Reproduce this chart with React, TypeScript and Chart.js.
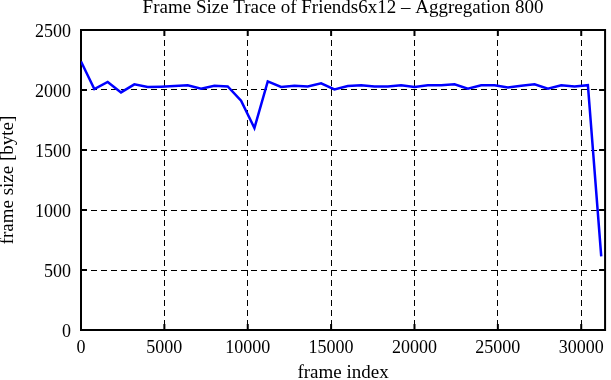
import React, { useEffect, useRef } from "react";
import { Chart, registerables } from "chart.js";

Chart.register(...registerables);

const chartTitle = "Frame Size Trace of Friends6x12 – Aggregation 800";
const xAxisTitle = "frame index";
const yAxisTitle = "frame size [byte]";

const frameIndex = [
  0, 800, 1600, 2400, 3200, 4000, 4800, 5600, 6400, 7200,
  8000, 8800, 9600, 10400, 11200, 12000, 12800, 13600, 14400, 15200,
  16000, 16800, 17600, 18400, 19200, 20000, 20800, 21600, 22400, 23200,
  24000, 24800, 25600, 26400, 27200, 28000, 28800, 29600, 30400, 31200,
];

const frameSize = [
  2238, 2008, 2067, 1980, 2047, 2025, 2028, 2033, 2040, 2010,
  2035, 2030, 1911, 1683, 2072, 2025, 2035, 2030, 2055, 2005,
  2033, 2040, 2030, 2030, 2040, 2025, 2040, 2040, 2048, 2010,
  2040, 2040, 2020, 2035, 2048, 2010, 2040, 2030, 2040, 613,
];

const xTicks = [0, 5000, 10000, 15000, 20000, 25000, 30000];
const yTicks = [0, 500, 1000, 1500, 2000, 2500];
const xMin = 0;
const xMax = 31430;
const yMin = 0;
const yMax = 2500;

const FONT = "'Liberation Serif', 'DejaVu Serif', serif";

const framePlugin = {
  id: "gnuplotFrame",
  beforeDatasetsDraw(chart: any) {
    const { ctx, chartArea } = chart;
    const { left, right, top, bottom } = chartArea;
    const xs = chart.scales.x;
    const ys = chart.scales.y;
    const tl = 6;
    ctx.save();
    ctx.strokeStyle = "#000";
    ctx.lineWidth = 2;
    ctx.setLineDash([]);
    ctx.beginPath();
    xTicks.forEach((v) => {
      const px = xs.getPixelForValue(v);
      ctx.moveTo(px, bottom);
      ctx.lineTo(px, bottom - tl);
      ctx.moveTo(px, top);
      ctx.lineTo(px, top + tl);
    });
    yTicks.forEach((v) => {
      const py = ys.getPixelForValue(v);
      ctx.moveTo(left, py);
      ctx.lineTo(left + tl, py);
      ctx.moveTo(right, py);
      ctx.lineTo(right - tl, py);
    });
    ctx.stroke();
    ctx.lineWidth = 2;
    ctx.strokeRect(left, top, right - left, bottom - top);
    ctx.restore();
  },
};

export default function App() {
  const canvasRef = useRef<HTMLCanvasElement | null>(null);

  useEffect(() => {
    const canvas = canvasRef.current;
    if (!canvas) return;
    const points = frameIndex.map((x, i) => ({ x, y: frameSize[i] }));
    const chart = new Chart(canvas, {
      type: "line",
      data: {
        datasets: [
          {
            data: points,
            borderColor: "#0000ff",
            backgroundColor: "#0000ff",
            borderWidth: 2.5,
            pointRadius: 0,
            tension: 0,
            fill: false,
          },
        ],
      },
      options: {
        animation: false,
        responsive: false,
        devicePixelRatio: 1,
        layout: { padding: { left: 0, right: 3, top: 0, bottom: 0 } },
        plugins: {
          legend: { display: false },
          tooltip: { enabled: false },
          title: {
            display: true,
            text: chartTitle,
            fullSize: false,
            color: "#000",
            font: { family: FONT, size: 19, weight: "normal", lineHeight: 1 },
            padding: { top: -1.5, bottom: 12.5 },
          },
        },
        scales: {
          x: {
            type: "linear",
            min: xMin,
            max: xMax,
            afterBuildTicks: (scale: any) => {
              scale.ticks = xTicks.map((value) => ({ value }));
            },
            afterFit: (scale: any) => {
              scale.height = 50;
            },
            grid: {
              color: "#000",
              lineWidth: 1,
              drawTicks: false,
            },
            border: { display: false, dash: [6, 4] },
            ticks: {
              color: "#000",
              padding: 7,
              maxRotation: 0,
              autoSkip: false,
              font: { family: FONT, size: 18 },
              callback: (v: any) => String(v),
            },
            title: {
              display: true,
              text: xAxisTitle,
              color: "#000",
              font: { family: FONT, size: 19 },
              padding: { top: 0, bottom: -4 },
            },
          },
          y: {
            type: "linear",
            min: yMin,
            max: yMax,
            afterBuildTicks: (scale: any) => {
              scale.ticks = yTicks.map((value) => ({ value }));
            },
            afterFit: (scale: any) => {
              scale.width = 81;
            },
            grid: {
              color: "#000",
              lineWidth: 1,
              drawTicks: false,
            },
            border: { display: false, dash: [6, 4] },
            ticks: {
              color: "#000",
              padding: 10,
              labelOffset: 2,
              autoSkip: false,
              font: { family: FONT, size: 18 },
              callback: (v: any) => String(v),
            },
            title: {
              display: true,
              text: yAxisTitle,
              color: "#000",
              font: { family: FONT, size: 19 },
              padding: { top: -3, bottom: 0 },
            },
          },
        },
      },
      plugins: [framePlugin],
    });
    return () => chart.destroy();
  }, []);

  return (
    <div style={{ position: "absolute", left: 0, top: 0, width: 611, height: 380, background: "#fff" }}>
      <canvas ref={canvasRef} width={611} height={380} style={{ width: 611, height: 380, display: "block" }} />
    </div>
  );
}
